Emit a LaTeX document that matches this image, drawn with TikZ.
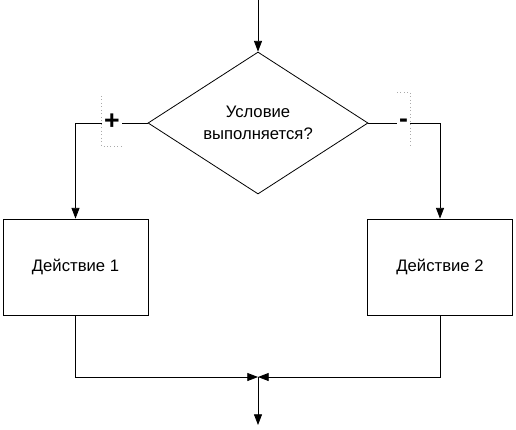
\documentclass[tikz,border=0pt]{standalone}
\usepackage{fontspec}
\setmainfont{Liberation Sans}
\usetikzlibrary{shapes.geometric, arrows.meta}
\definecolor{inkblack}{RGB}{0,0,0}
\definecolor{framegray}{RGB}{170,170,170}
\tikzset{
  actbox/.style={draw=inkblack, line width=0.6pt, minimum width=108.75pt, minimum height=72pt,
    inner sep=0pt, font=\fontsize{12.5}{16.5}\selectfont, align=center},
  condbox/.style={draw=inkblack, line width=0.6pt, diamond, aspect=1.55, minimum width=165pt,
    minimum height=106.5pt, inner sep=0pt, font=\fontsize{12.5}{16.5}\selectfont, align=center},
  flowedge/.style={draw=inkblack, line width=0.6pt},
  flowarrow/.style={flowedge, -{Triangle[length=8pt,width=6pt]}},
  signlabel/.style={font=\fontsize{20}{20}\selectfont\bfseries, inner sep=0pt},
  labelframe/.style={draw=framegray, dotted, line width=0.6pt}
}
\begin{document}
\begin{tikzpicture}[x=0.75pt, y=-0.75pt]
  \useasboundingbox (0,0) rectangle (516,429);
  % condition and actions
  \node[condbox] (cond) at (258,123) {Условие\\выполняется?};
  \node[actbox] (act1) at (75.5,267) {Действие 1};
  \node[actbox] (act2) at (440,267) {Действие 2};
  \coordinate (entry) at (258,0);
  \coordinate (join) at (258,377);
  \coordinate (exit) at (258,425);
  % branch labels
  \node[signlabel, minimum width=15pt] (yes) at (112,122) {+};
  \node[signlabel, minimum width=10pt] (no) at (403.5,123) {-};
  \draw[labelframe] (101.5,96) -- (101.5,146) -- (122,146);
  \draw[labelframe] (397,92) -- (410,92) -- (410,147);
  % connectors
  \draw[flowarrow] (entry) -- (cond.north);
  \draw[flowedge] (cond.west) -- (yes.east |- cond.west);
  \draw[flowarrow] (yes.west |- cond.west) -- (act1.north |- cond.west) -- (act1.north);
  \draw[flowedge] (cond.east) -- (no.west |- cond.east);
  \draw[flowarrow] (no.east |- cond.east) -- (act2.north |- cond.east) -- (act2.north);
  \draw[flowarrow] (act1.south) -- (act1.south |- join) -- (join);
  \draw[flowarrow] (act2.south) -- (act2.south |- join) -- (join);
  \draw[flowarrow] (join) -- (exit);
\end{tikzpicture}
\end{document}
